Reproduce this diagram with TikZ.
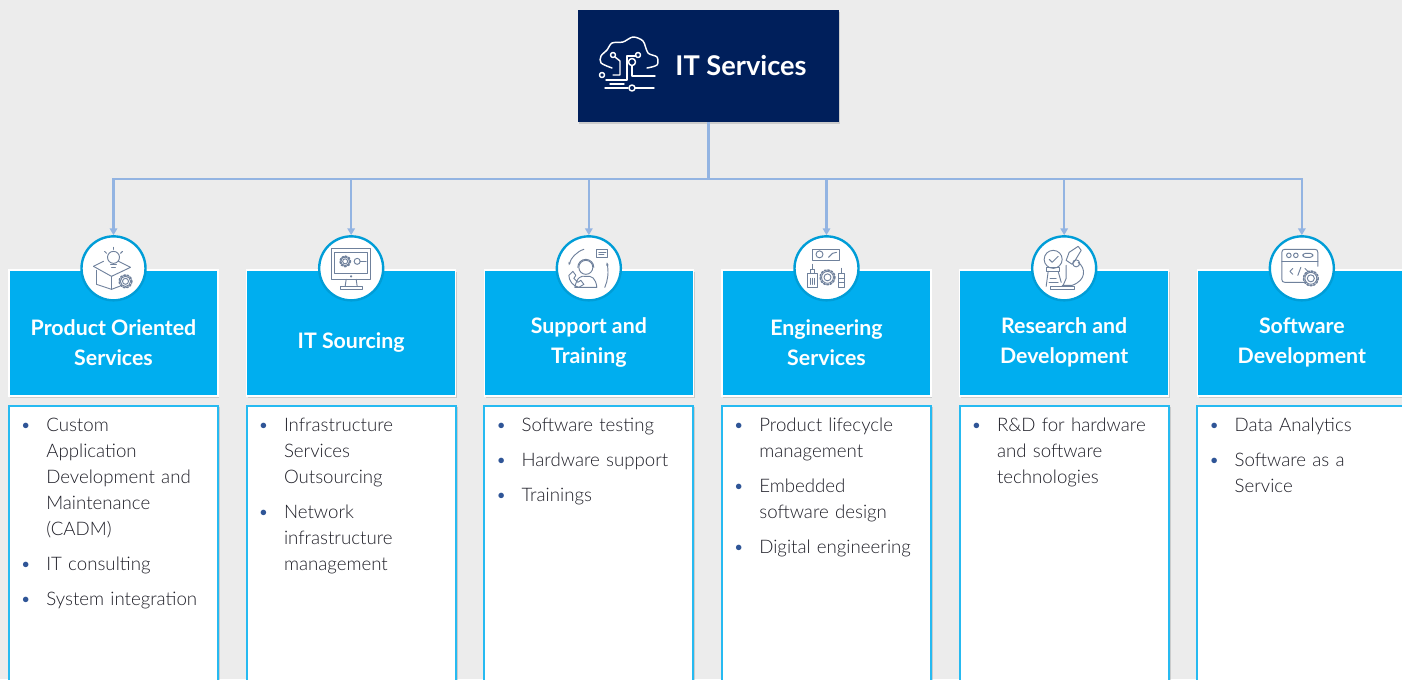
\documentclass[tikz,border=0pt]{standalone}
\usepackage{fontspec}
\setmainfont{Lato}[UprightFont=* Light, BoldFont=* Bold]
\usetikzlibrary{positioning,shadows,arrows.meta}

\definecolor{pagegrey}{HTML}{ECECEC}
\definecolor{rootblue}{HTML}{001F5B}
\definecolor{headblue}{HTML}{00AEEF}
\definecolor{linkblue}{HTML}{93B4E2}
\definecolor{dotblue}{HTML}{2F5597}
\definecolor{iconline}{HTML}{6F819C}
\definecolor{bodytext}{HTML}{1F1F28}

\newenvironment{itemlist}{\begin{list}{\textcolor{dotblue}{\textbullet}}{%
  \setlength{\topsep}{0pt}\setlength{\partopsep}{0pt}\setlength{\parsep}{0pt}%
  \setlength{\itemsep}{6.75pt}\setlength{\leftmargin}{20.3pt}%
  \setlength{\labelsep}{11.3pt}\setlength{\labelwidth}{9pt}}}{\end{list}}

\newcommand{\gearicon}[3]{% x, y, radius
  \draw (#1,#2) circle (#3*0.5);
  \draw (#1,#2) circle (#3*0.85);
  \draw[line width=1.2pt, dash pattern=on 1.3pt off 1.3pt] (#1,#2) circle (#3*1.05);
}

\tikzset{
  rootbox/.style={fill=rootblue, minimum width=195.75pt, minimum height=84pt, outer sep=0pt,
    drop shadow={shadow xshift=1pt, shadow yshift=-1.2pt, opacity=0.3}},
  roottext/.style={text=white, font=\bfseries\fontsize{20.4}{24}\selectfont, inner sep=0pt},
  headbox/.style={fill=headblue, draw=white, line width=1.2pt, minimum width=156.75pt, minimum height=94.5pt, outer sep=0pt,
    drop shadow={shadow xshift=1pt, shadow yshift=-1.5pt, opacity=0.3}},
  headtext/.style={text=white, font=\bfseries\fontsize{16}{22.5}\selectfont, align=center, inner sep=0pt},
  bodybox/.style={fill=white, draw=headblue!85!white, line width=1.5pt, minimum width=156.75pt, minimum height=225pt, outer sep=0pt,
    drop shadow={shadow xshift=1.5pt, shadow yshift=-1pt, opacity=0.3}},
  listtext/.style={text=bodytext, font=\fontsize{14}{19.5}\selectfont, text width=145pt, align=left, inner sep=0pt, anchor=north west},
  iconcircle/.style={circle, fill=white, draw=headblue!90!black, line width=1.8pt, minimum size=48pt, outer sep=0.9pt},
  link/.style={draw=linkblue, line width=1.7pt},
  linkarrow/.style={link, -{Triangle[length=5pt, width=5.5pt]}},
  iconstyle/.style={draw=iconline, line width=0.7pt, line cap=round, line join=round},
  cloudstyle/.style={draw=white, line width=1.1pt, line cap=round, line join=round},
}

\begin{document}
\begin{tikzpicture}[x=0.75pt, y=-0.75pt]
  \useasboundingbox (0,0) rectangle (1402,679);
  \clip (0,0) rectangle (1402,679);
  \fill[pagegrey] (0,0) rectangle (1402,679);

  % top box
  \node[rootbox] (Root) at (708.5,66) {};
  \node[roottext] (RootText) at (741,66) {IT Services};
  \coordinate[below=42.75pt of Root.south] (Bus);

  % category boxes
  \node[headbox] (HeadA) at (113.5,333) {};
  \node[headbox, right=21.5pt of HeadA] (HeadB) {};
  \node[headbox, right=21.5pt of HeadB] (HeadC) {};
  \node[headbox, right=21.5pt of HeadC] (HeadD) {};
  \node[headbox, right=21.5pt of HeadD] (HeadE) {};
  \node[headbox, right=21.5pt of HeadE] (HeadF) {};

  % white boxes under them
  \node[bodybox, below=7.5pt of HeadA] (BodyA) {};
  \node[bodybox, below=7.5pt of HeadB] (BodyB) {};
  \node[bodybox, below=7.5pt of HeadC] (BodyC) {};
  \node[bodybox, below=7.5pt of HeadD] (BodyD) {};
  \node[bodybox, below=7.5pt of HeadE] (BodyE) {};
  \node[bodybox, below=7.5pt of HeadF] (BodyF) {};

  % icon circles
  \node[iconcircle] (IconA) at ([yshift=48.5pt]HeadA.center) {};
  \node[iconcircle] (IconB) at ([yshift=48.5pt]HeadB.center) {};
  \node[iconcircle] (IconC) at ([yshift=48.5pt]HeadC.center) {};
  \node[iconcircle] (IconD) at ([yshift=48.5pt]HeadD.center) {};
  \node[iconcircle] (IconE) at ([yshift=48.5pt]HeadE.center) {};
  \node[iconcircle] (IconF) at ([yshift=48.5pt]HeadF.center) {};

  % connectors
  \draw[link] (Root.south) -- (Bus);
  \draw[linkarrow] (Bus) -| (IconA.north);
  \draw[linkarrow] (Bus) -| (IconB.north);
  \draw[linkarrow] (Bus) -| (IconC.north);
  \draw[linkarrow] (Bus) -| (IconD.north);
  \draw[linkarrow] (Bus) -| (IconE.north);
  \draw[linkarrow] (Bus) -| (IconF.north);

  % titles
  \node[headtext] (TitleA) at ([yshift=-7pt]HeadA.center) {Product Oriented\\Services};
  \node[headtext] (TitleB) at ([yshift=-7pt]HeadB.center) {IT Sourcing};
  \node[headtext] (TitleC) at ([yshift=-7pt]HeadC.center) {Support and\\Training};
  \node[headtext] (TitleD) at ([yshift=-7pt]HeadD.center) {Engineering\\Services};
  \node[headtext] (TitleE) at ([yshift=-7pt]HeadE.center) {Research and\\Development};
  \node[headtext] (TitleF) at ([yshift=-7pt]HeadF.center) {Software\\Development};

  % lists
  \node[listtext, below right=-0.4pt and 7.5pt of BodyA.north west] (ListA) {\begin{itemlist}
    \item Custom\\Application\\Development and\\Maintenance\\(CADM)
    \item IT consulting
    \item System integration
  \end{itemlist}};
  \node[listtext, below right=-0.4pt and 7.5pt of BodyB.north west] (ListB) {\begin{itemlist}
    \item Infrastructure\\Services\\Outsourcing
    \item Network\\infrastructure\\management
  \end{itemlist}};
  \node[listtext, below right=-0.4pt and 7.5pt of BodyC.north west] (ListC) {\begin{itemlist}
    \item Software testing
    \item Hardware support
    \item Trainings
  \end{itemlist}};
  \node[listtext, below right=-0.4pt and 7.5pt of BodyD.north west] (ListD) {\begin{itemlist}
    \item Product lifecycle\\management
    \item Embedded\\software design
    \item Digital engineering
  \end{itemlist}};
  \node[listtext, below right=-0.4pt and 7.5pt of BodyE.north west] (ListE) {\begin{itemlist}
    \item R\&D for hardware\\and software\\technologies
  \end{itemlist}};
  \node[listtext, below right=-0.4pt and 7.5pt of BodyF.north west] (ListF) {\begin{itemlist}
    \item Data Analytics
    \item Software as a\\Service
  \end{itemlist}};

  % cloud icon
  \begin{scope}[shift={(628,64)}, cloudstyle]
    \draw plot[smooth] coordinates {(-16,4) (-27,-1) (-27,-8) (-21,-14) (-16,-21) (-5,-22) (5,-27) (15,-23) (20,-11) (29,-7) (29,1) (19,4)};
    \draw (-15,-9) circle (2.5);
    \draw (-13,-7) -- (-8,-3) -- (-8,11) -- (-15,11);
    \draw (4,-2) circle (3.5);
    \draw (4,2) -- (4,12) -- (27,12);
    \draw (10,-9) circle (2.5);
    \draw (8,-8) -- (-1,-8) -- (-1,16) -- (-22,16);
    \draw (-26,11) circle (2.5);
    \draw (-23,24) -- (0,24);
    \draw (4,24) circle (3);
    \draw (7,24) -- (18,24) -- (26,24);
    \draw (-18,20) -- (-4,20);
  \end{scope}

  % box with bulb
  \begin{scope}[shift={(IconA.center)}, iconstyle]
    \draw (-17,2) -- (-17,16) -- (-2,21) -- (6,18);
    \draw (-2,8) -- (-2,21);
    \draw (-20,-2) -- (-2,8) -- (17,-1) -- (5,-7);
    \draw (-20,-2) -- (-10,-7);
    \draw (0,-11) circle (6);
    \draw (-3,-4) -- (3,-4) (-2,-1) -- (2,-1);
    \draw (0,-21) -- (0,-19) (-9,-17) -- (-7,-15) (9,-17) -- (7,-15);
    \gearicon{12}{13}{6}
  \end{scope}

  % monitor
  \begin{scope}[shift={(IconB.center)}, iconstyle]
    \draw (-20,-20) rectangle (19,11);
    \draw (-17,-16) rectangle (16,5);
    \draw (-5,11) -- (-6,18) (5,11) -- (6,18);
    \draw (-11,18) rectangle (11,21);
    \gearicon{-6}{-7}{5}
    \draw (6,-7) circle (3);
    \draw (9,-7) -- (15,-7);
    \draw (0,8) circle (0.7);
  \end{scope}

  % support agent
  \begin{scope}[shift={(IconC.center)}, iconstyle]
    \draw (-3,-1) circle (7);
    \draw (-11,-1) arc (180:360:8);
    \draw (-14,19) .. controls (-12,9) and (-8,7) .. (-3,8) .. controls (3,7) and (7,10) .. (8,19) -- cycle;
    \draw (8,-19) rectangle (19,-11);
    \draw (10,-16) -- (17,-16) (10,-13.5) -- (15,-13.5);
    \draw[-{Stealth[length=2.5pt]}] (-5,-19) .. controls (-12,-17) and (-18,-10) .. (-20,-3);
    \draw[-{Stealth[length=2.5pt]}] (16,19) .. controls (19,12) and (20,4) .. (18,-6);
    \draw (-20,7) -- (-16,3) -- (-13,7) -- (-15,10) -- (-11,14) -- (-8,12) -- (-5,16) -- (-10,19) .. controls (-16,18) and (-20,12) .. (-20,7);
  \end{scope}

  % engineering
  \begin{scope}[shift={(IconD.center)}, iconstyle]
    \draw (-14,-19) rectangle (13,-8);
    \draw (-7,-14) circle (3.5);
    \draw (2,-11) -- (6,-15) -- (10,-16);
    \gearicon{1}{9}{7}
    \draw (-19,5) rectangle (-9,19);
    \draw (-16,5) -- (-16,1) -- (-12,1) -- (-12,5);
    \draw (-14,1) -- (-14,-4);
    \draw (-16,10) -- (-16,16) (-14,10) -- (-14,16) (-12,10) -- (-12,16);
    \draw (12,5) rectangle (18,19);
    \draw (15,5) -- (15,0);
    \draw (12,10) -- (18,10) (12,14) -- (18,14);
  \end{scope}

  % research
  \begin{scope}[shift={(IconE.center)}, iconstyle]
    \draw (-11,-9) circle (9);
    \draw (-15,-9) -- (-12,-6) -- (-6,-12);
    \draw (-18,-1) rectangle (-5,3);
    \draw (-16,3) -- (-18,18) (-6,3) -- (-3,14);
    \draw (-14,10) -- (-8,10) (-15,14) -- (-6,14);
    \draw (-14,21) -- (10,21) -- (10,18) -- (-14,18) -- cycle;
    \draw (5,-16) -- (14,-22) -- (17,-18) -- (11,-8);
    \draw (5,-16) -- (2,-8) -- (8,-4) -- (11,-8);
    \draw (14,-6) .. controls (22,0) and (22,12) .. (8,17) -- (-2,17);
    \draw (12,-5) circle (3.5);
    \draw (2,-3) -- (2,10) -- (-1,17);
  \end{scope}

  % code window
  \begin{scope}[shift={(IconF.center)}, iconstyle]
    \draw (3,14) -- (-17,14) .. controls (-19,14) and (-20,13) .. (-20,11) -- (-20,-16) .. controls (-20,-18) and (-19,-19) .. (-17,-19) -- (13,-19) .. controls (15,-19) and (16,-18) .. (16,-16) -- (16,-2);
    \draw (-20,-7) -- (16,-7);
    \draw (-13,-13) circle (2.3);
    \draw (-6,-13) circle (2.3);
    \draw[rounded corners=2pt] (1,-15) rectangle (11,-11);
    \draw (-9,0) -- (-12,3) -- (-9,6);
    \draw (3,0) -- (6,3) -- (3,6);
    \draw (-1,-1) -- (-4,7);
    \gearicon{9}{10}{7}
  \end{scope}
\end{tikzpicture}
\end{document}
